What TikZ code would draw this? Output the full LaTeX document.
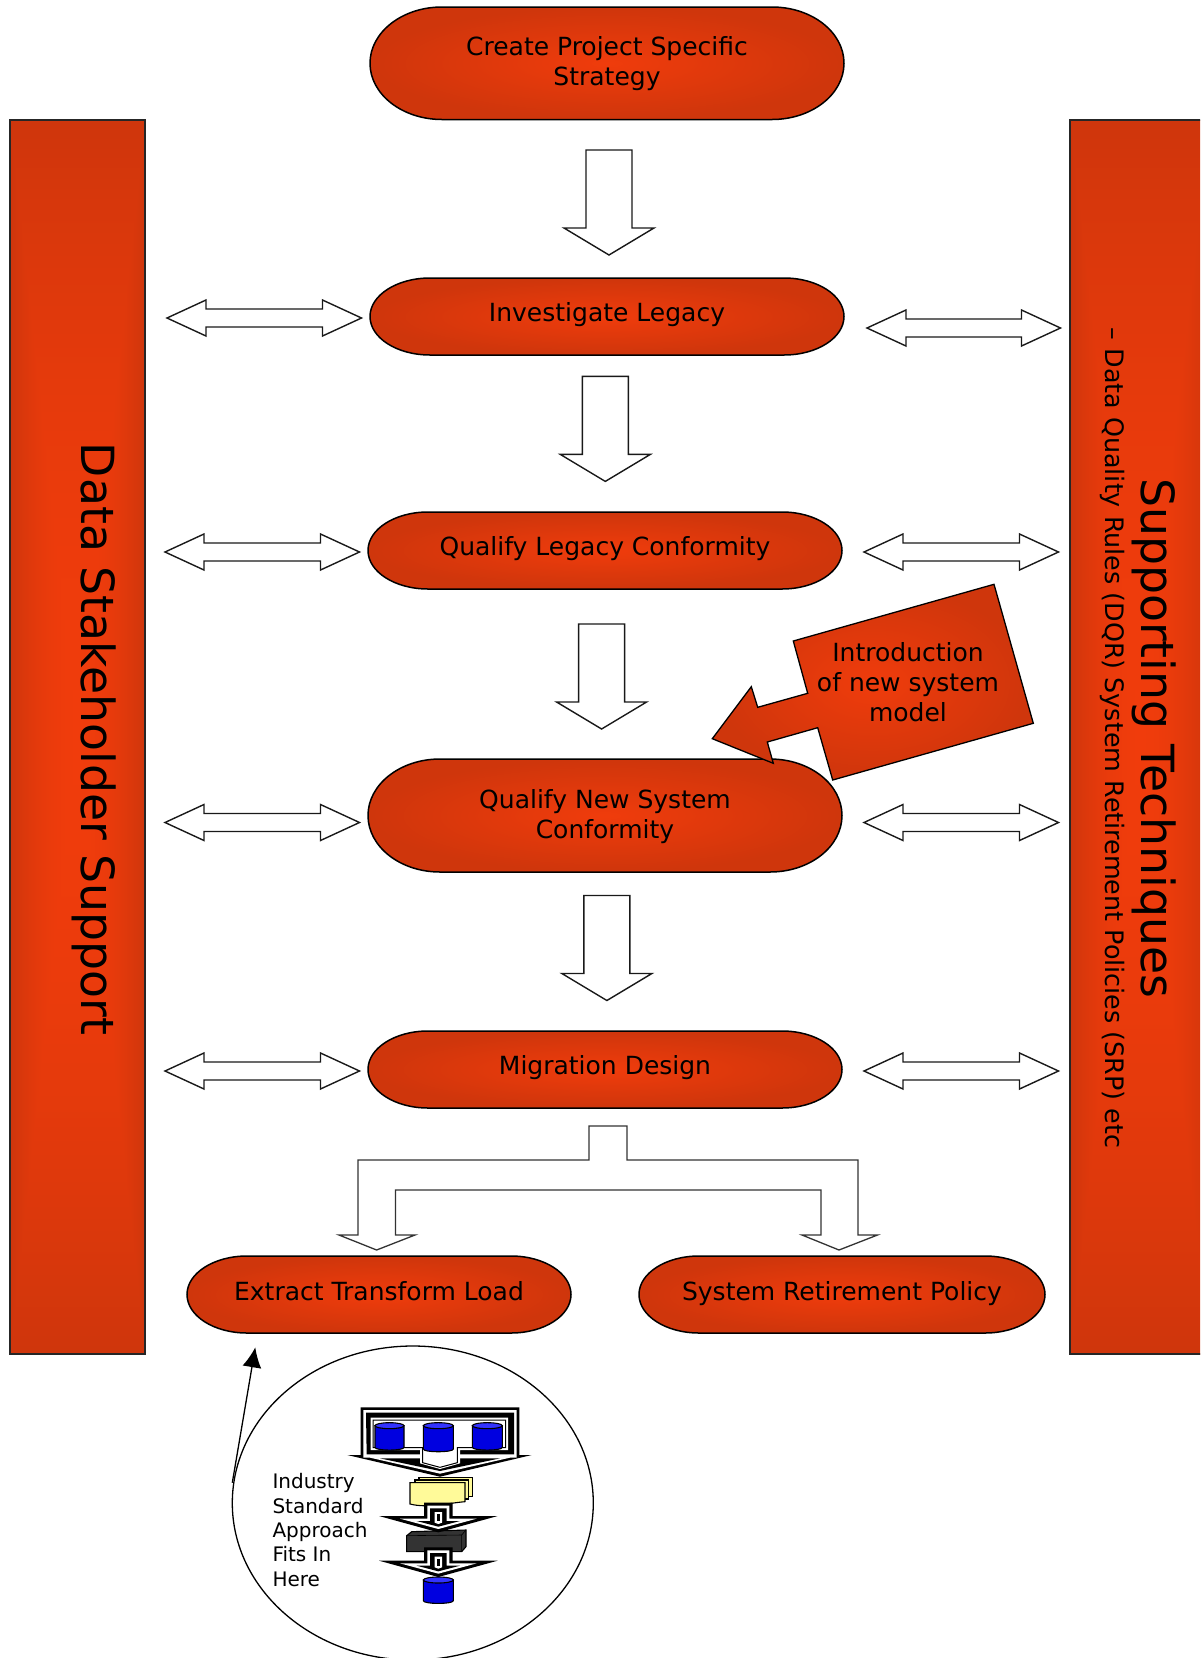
\documentclass[tikz,border=0pt]{standalone}
\usepackage{fontspec}
\setmainfont{DejaVu Sans}
\usetikzlibrary{arrows.meta}
\pgfdeclarefunctionalshading{rectgrad}{\pgfpoint{-50bp}{-50bp}}{\pgfpoint{50bp}{50bp}}{}{
  abs exch abs 2 copy lt {exch} if pop 25 div dup 1 gt {pop 1} if dup mul
  dup -0.13 mul 0.94 add exch dup -0.025 mul 0.235 add exch pop 0.047 }
\pgfdeclarefunctionalshading{pillgrad}{\pgfpoint{-50bp}{-50bp}}{\pgfpoint{50bp}{50bp}}{}{
  dup mul exch dup mul add sqrt 25 div dup 1 gt {pop 1} if
  dup -0.13 mul 0.94 add exch dup -0.025 mul 0.235 add exch pop 0.047 }
\tikzset{
  bar/.style={draw=black!85,line width=1.4pt,shading=rectgrad},
  pillshape/.style={draw=black,line width=1.5pt,shading=pillgrad},
  blockarrow/.style={draw=black!90,fill=white,line width=1.4pt,line join=miter},
  label/.style={text=black,font=\fontsize{25}{30}\selectfont,align=center,inner sep=0pt},
  biglabel/.style={text=black,font=\fontsize{45.7}{52}\selectfont,align=center,inner sep=0pt,rotate=-90},
  sidelabel/.style={text=black,font=\fontsize{25.4}{30}\selectfont,align=center,inner sep=0pt,rotate=-90},
  small/.style={text=black,font=\fontsize{20}{24.4}\selectfont,align=left,inner sep=0pt},
  ic/.style={line width=1.1pt,draw=black},
}
\newcommand{\pill}[5]{%
  \path[pillshape] ({#1+#5},#2) -- ({#3-#5},#2)
    .. controls ({#3-0.4477*#5},#2) and (#3,{#2+0.2239*(#4-#2)}) .. (#3,{(#2+#4)/2})
    .. controls (#3,{#4-0.2239*(#4-#2)}) and ({#3-0.4477*#5},#4) .. ({#3-#5},#4)
    -- ({#1+#5},#4)
    .. controls ({#1+0.4477*#5},#4) and (#1,{#4-0.2239*(#4-#2)}) .. (#1,{(#2+#4)/2})
    .. controls (#1,{#2+0.2239*(#4-#2)}) and ({#1+0.4477*#5},#2) .. ({#1+#5},#2) -- cycle;}
\newcommand{\downblock}[2]{%
  \draw[blockarrow] ({#1-23},#2) -- ({#1+23},#2) -- ({#1+23},{#2+78}) -- ({#1+45},{#2+78})
    -- (#1,{#2+105}) -- ({#1-45},{#2+78}) -- ({#1-23},{#2+78}) -- cycle;}
\newcommand{\dblarrow}[3]{%
  \draw[blockarrow] (#1,#3) -- ({#1+39},{#3-18}) -- ({#1+39},{#3-9}) -- ({#2-39},{#3-9})
    -- ({#2-39},{#3-18}) -- (#2,#3) -- ({#2-39},{#3+18}) -- ({#2-39},{#3+9})
    -- ({#1+39},{#3+9}) -- ({#1+39},{#3+18}) -- cycle;}
\newcommand{\cyl}[4]{%
  \path[ic,fill=blue!88!black] (#1,{#3+10}) -- (#1,{#4-8}) .. controls (#1,{#4+3}) and (#2,{#4+3}) .. (#2,{#4-8})
    -- (#2,{#3+10}) -- cycle;
  \path[ic,fill=blue!80!white] ({(#1+#2)/2},{#3+10}) ellipse [x radius={(#2-#1)/2},y radius=9];}
\newcommand{\smallicon}[1]{%
  \begin{scope}[yshift={-#1*1pt/3}]
  \fill[black] (612,518)--(698,518)--(698,558)--(833,558)--(655,607)--(477,558)--(612,558)--cycle;
  \fill[white] (622,527)--(688,527)--(688,566)--(770,566)--(655,597)--(540,566)--(622,566)--cycle;
  \fill[black] (630,535)--(680,535)--(680,573)--(720,573)--(655,590)--(590,573)--(630,573)--cycle;
  \fill[white] (644,546)--(666,546)--(666,578)--(655,582)--(644,578)--cycle;
  \fill[black] (650,553)--(660,553)--(660,574)--(650,574)--cycle;
  \end{scope}}
\begin{document}
\begin{tikzpicture}[x=1pt,y=-1pt]
\clip (0,0) rectangle (1200,1658);
\path[fill=white] (0,0) rectangle (1200,1658);
% side bars
\path[bar] (10,120) rectangle (145,1354);
\path[bar] (1070,120) rectangle (1210,1354);
\node[biglabel] (stake) at (94,739) {Data Stakeholder Support};
\node[biglabel] (tech) at (1154,738) {Supporting Techniques};
\node[sidelabel] (rules) at (1112,738) {– Data Quality Rules (DQR) System Retirement Policies (SRP) etc};
% pills
\pill{370}{7}{844}{119.5}{72}
\pill{370}{278}{844}{355}{60}
\pill{368}{512}{842}{589}{60}
\pill{368}{759}{842}{872}{72}
\pill{368}{1031}{842}{1108}{60}
\pill{187}{1256}{571}{1333}{60}
\pill{639}{1256}{1045}{1333}{60}
\node[label] (create) at (607,64) {Create Project Specific\\Strategy};
\node[label] (legacy) at (607,315) {Investigate Legacy};
\node[label] (conf) at (605,549) {Qualify Legacy Conformity};
\node[label] (newsys) at (605,817) {Qualify New System\\Conformity};
\node[label] (design) at (605,1068) {Migration Design};
\node[label] (etl) at (379,1291) {Extract Transform Load};
\node[label] (srp) at (842,1294) {System Retirement Policy};
% vertical block arrows
\downblock{609}{150}
\downblock{605.3}{376.4}
\downblock{601.6}{624}
\downblock{606.9}{895.5}
% horizontal double arrows
\dblarrow{167}{361.5}{318}
\dblarrow{165}{359.5}{552}
\dblarrow{165}{359.5}{822.5}
\dblarrow{165}{359.5}{1071}
\dblarrow{867}{1060.5}{328}
\dblarrow{864}{1058.5}{552}
\dblarrow{864}{1058.5}{822.5}
\dblarrow{864}{1058.5}{1071}
% branching arrow
\draw[draw=black!80,fill=white,line width=1.3pt]
  (589,1126) -- (627,1126) -- (627,1160) -- (858,1160) -- (858,1235) -- (877.5,1235) -- (839,1250)
  -- (802,1235) -- (821,1235) -- (821,1190) -- (395.5,1190) -- (395.5,1235) -- (415,1235) -- (376.6,1250)
  -- (339,1235) -- (358,1235) -- (358,1160) -- (589,1160) -- cycle;
% callout
\path[draw=black,line width=1.3pt,shading=pillgrad,line join=miter]
  (994,584.3) -- (1033.3,723.3) -- (832.7,780) -- (817.7,727.7) -- (767.3,742) -- (773.3,763.3)
  -- (712.3,738.7) -- (751.3,686.7) -- (757.7,707.3) -- (807.7,693.3) -- (793.3,641) -- cycle;
\node[label] (intro) at (908,682) {Introduction\\of new system\\model};
% circle with icon
\draw[black,line width=1.3pt,fill=white] (412.8,1503) ellipse [x radius=180.5,y radius=157];
\coordinate (circ) at (232.3,1482.7);
\coordinate (etltip) at (255.3,1347.3);
\draw[black,line width=1.3pt,-{Latex[length=20pt,width=19pt]}] (circ) -- (etltip);
\node[small,anchor=west] (industry) at (272.3,1530) {Industry\\Standard\\Approach\\Fits In\\Here};
% icon lower part, coordinates of a 3x crop
\begin{scope}[shift={(220,1330)},x=1pt/3,y=-1pt/3]
  \path[ic,fill=yellow!40] (597,443) rectangle (757,500);
  \path[ic,fill=yellow!40] (585,450) rectangle (745,507);
  \path[ic,fill=yellow!40] (570,458) -- (735,458) -- (735,515) .. controls (680,520) and (620,535) .. (570,522) -- cycle;
  \path[ic,fill=black!80] (560,617) -- (575,605) -- (738,600) -- (738,650) -- (725,665) -- (560,665) -- cycle;
  \draw[line width=0.6pt,black] (560,617) -- (725,615) -- (738,600) (725,615) -- (725,665);
  \cyl{610}{700}{740}{820}
  \smallicon{0}
  \smallicon{134}
\end{scope}
% icon upper part
\begin{scope}[shift={(340,1395)},x=1pt/3,y=-1pt/3]
  \fill[black] (62,37)--(538,37)--(538,180)--(575,180)--(300,245)--(22,180)--(62,180)--cycle;
  \fill[white] (70,45)--(530,45)--(530,188)--(510,188)--(300,236)--(90,188)--(70,188)--cycle;
  \fill[black] (78,53)--(522,53)--(522,178)--(80,178)--cycle;
  \fill[black] (120,190)--(480,190)--(300,228)--cycle;
  \fill[white] (92,68)--(504,68)--(504,165)--(360,165)--(360,205)--(300,222)--(240,205)--(240,165)--(92,165)--cycle;
  \draw[black,line width=1pt,fill=white] (99,75)--(497,75)--(497,158)--(352,158)--(352,203)--(300,217)--(248,203)--(248,158)--(99,158)--cycle;
  \fill[white] (262,160)--(335,160)--(335,198)--(300,208)--(262,198)--cycle;
  \cyl{105}{192}{82}{165}
  \cyl{250}{340}{82}{170}
  \cyl{397}{487}{82}{165}
\end{scope}
\end{tikzpicture}
\end{document}
